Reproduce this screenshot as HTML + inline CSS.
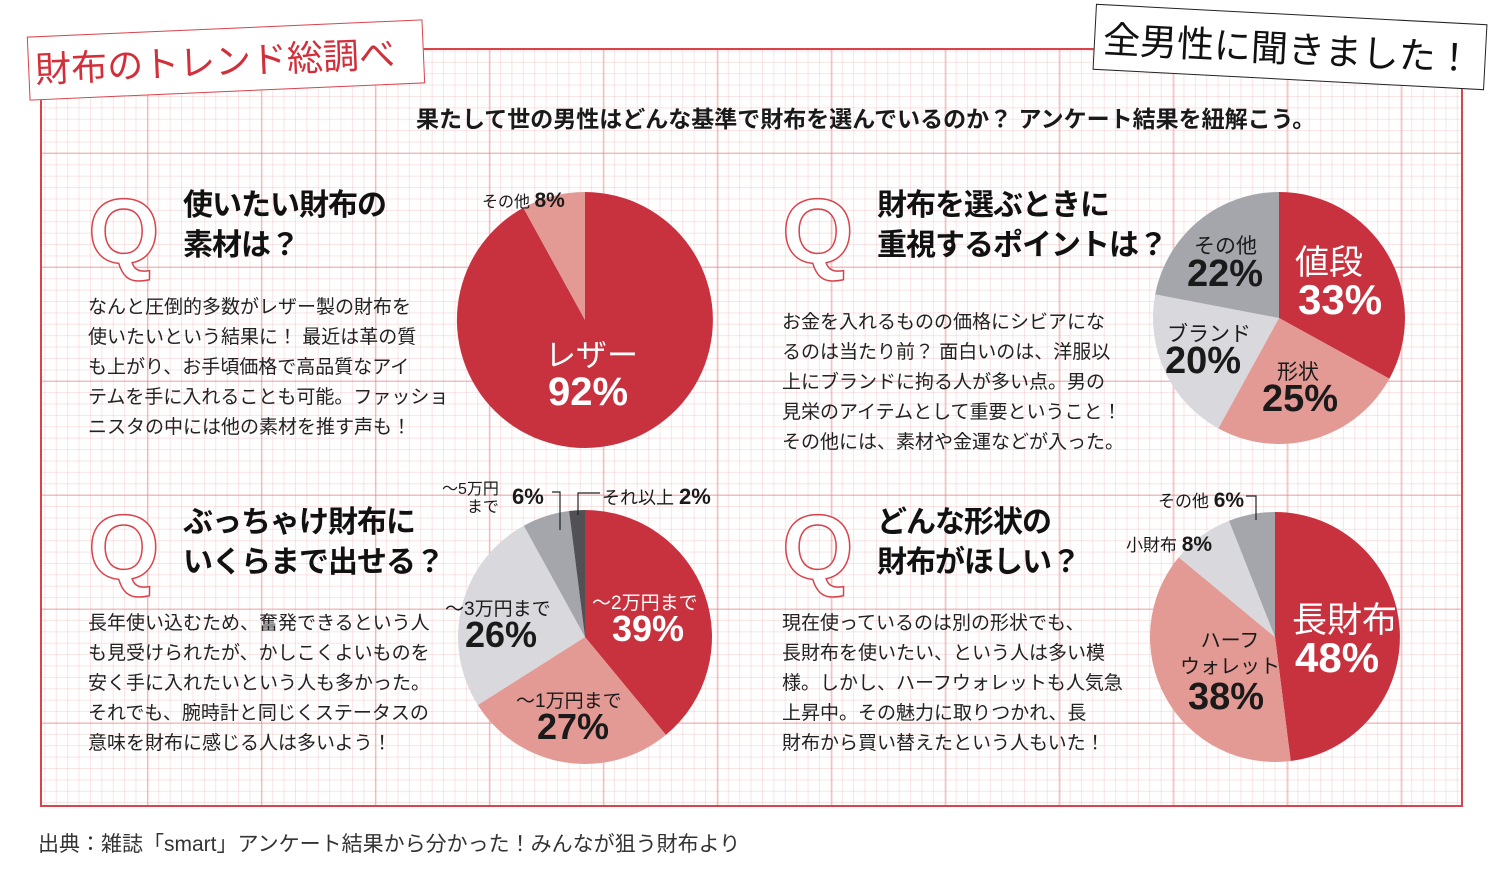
<!DOCTYPE html>
<html><head><meta charset="utf-8"><style>
*{margin:0;padding:0;box-sizing:border-box}
body{width:1500px;height:869px;background:#fff;position:relative;overflow:hidden;font-family:"Liberation Sans","Noto Sans CJK JP",sans-serif;color:#1a1a1a}
#grid{position:absolute;left:40px;top:48px;width:1423px;height:759px;border:2px solid #d9434b;
background-color:#fff;
background-image:
linear-gradient(90deg,rgba(225,120,120,.4) 1.3px,transparent 1.3px),
linear-gradient(0deg,rgba(225,120,120,.4) 1.3px,transparent 1.3px),
linear-gradient(90deg,rgba(235,160,160,.28) 1px,transparent 1px),
linear-gradient(0deg,rgba(235,160,160,.28) 1px,transparent 1px);
background-size:114px 114px,114px 114px,11.4px 11.4px,11.4px 11.4px;
background-position:-9px -10px,-9px -10px,-9px -10px,-9px -10px}
.t{position:absolute;white-space:nowrap}
.b{font-weight:bold}
.box1{position:absolute;left:28px;top:28px;width:396px;height:64px;background:#fff;border:1.5px solid #d9434b;transform:rotate(-2.5deg);color:#d32f3b;font-size:36px;line-height:60px;padding-left:6px;white-space:nowrap;font-family:"Noto Sans CJK JP",sans-serif}
.box2{position:absolute;left:1094px;top:14px;width:392px;height:66px;background:#fff;border:1.5px solid #222;transform:rotate(3deg);color:#111;font-size:37px;line-height:62px;padding-left:8px;white-space:nowrap;font-family:"Noto Sans CJK JP",sans-serif}
.q{position:absolute;font-size:19px;line-height:30px;color:#222;white-space:nowrap}
.h{position:absolute;font-size:30px;font-weight:bold;line-height:40px;color:#111;white-space:nowrap;letter-spacing:-1px}
.Q{position:absolute;font-family:"Liberation Sans",Arial,sans-serif;font-weight:bold;font-size:92px;line-height:92px;color:#fff;-webkit-text-stroke:1.5px #d9434b}
</style></head><body>
<div id="grid"></div>
<div class="box1">財布のトレンド総調べ</div>
<div class="box2">全男性に聞きました！</div>
<div class="t b" style="left:416px;top:100px;font-size:23px">果たして世の男性はどんな基準で財布を選んでいるのか？ アンケート結果を紐解こう。</div>

<div class="Q" style="left:88px;top:186px">Q</div>
<div class="Q" style="left:782px;top:186px">Q</div>
<div class="Q" style="left:88px;top:502px">Q</div>
<div class="Q" style="left:782px;top:502px">Q</div>

<svg width="1500" height="869" style="position:absolute;left:0;top:0">
<path d="M585,320 L585,192 A128,128 0 1 1 523.3,207.8 Z" fill="#c8323f"/>
<path d="M585,320 L523.3,207.8 A128,128 0 0 1 585,192 Z" fill="#e39a95"/>
<path d="M1279,318 L1279,192 A126,126 0 0 1 1389.4,378.7 Z" fill="#c8323f"/>
<path d="M1279,318 L1389.4,378.7 A126,126 0 0 1 1218.3,428.4 Z" fill="#e39a95"/>
<path d="M1279,318 L1218.3,428.4 A126,126 0 0 1 1155.2,294.4 Z" fill="#d9d9dd"/>
<path d="M1279,318 L1155.2,294.4 A126,126 0 0 1 1279,192 Z" fill="#a5a6ab"/>
<path d="M585,637 L585,510 A127,127 0 0 1 665.9,734.9 Z" fill="#c8323f"/>
<path d="M585,637 L665.9,734.9 A127,127 0 0 1 477.8,705 Z" fill="#e39a95"/>
<path d="M585,637 L477.8,705 A127,127 0 0 1 523.8,525.7 Z" fill="#d9d9dd"/>
<path d="M585,637 L523.8,525.7 A127,127 0 0 1 569.1,511 Z" fill="#a5a6ab"/>
<path d="M585,637 L569.1,511 A127,127 0 0 1 585,510 Z" fill="#505055"/>
<polyline points="552,492 560,492 560,530" fill="none" stroke="#222" stroke-width="1.2"/>
<polyline points="600,493 578,493 578,515" fill="none" stroke="#222" stroke-width="1.2"/>
<path d="M1275,637 L1275,512 A125,125 0 0 1 1290.7,761 Z" fill="#c8323f"/>
<path d="M1275,637 L1290.7,761 A125,125 0 0 1 1178.7,557.3 Z" fill="#e39a95"/>
<path d="M1275,637 L1178.7,557.3 A125,125 0 0 1 1229,520.8 Z" fill="#d9d9dd"/>
<path d="M1275,637 L1229,520.8 A125,125 0 0 1 1275,512 Z" fill="#a5a6ab"/>
<polyline points="1246,496 1256,496 1256,520" fill="none" stroke="#222" stroke-width="1.2"/>
</svg>

<div class="h" style="left:183px;top:186px">使いたい財布の<br>素材は？</div>
<div class="h" style="left:877px;top:186px">財布を選ぶときに<br>重視するポイントは？</div>
<div class="h" style="left:183px;top:503px">ぶっちゃけ財布に<br>いくらまで出せる？</div>
<div class="h" style="left:877px;top:503px">どんな形状の<br>財布がほしい？</div>

<div class="q" style="left:88px;top:293px">なんと圧倒的多数がレザー製の財布を<br>使いたいという結果に！ 最近は革の質<br>も上がり、お手頃価格で高品質なアイ<br>テムを手に入れることも可能。ファッショ<br>ニスタの中には他の素材を推す声も！</div>
<div class="q" style="left:782px;top:308px">お金を入れるものの価格にシビアにな<br>るのは当たり前？ 面白いのは、洋服以<br>上にブランドに拘る人が多い点。男の<br>見栄のアイテムとして重要ということ！<br>その他には、素材や金運などが入った。</div>
<div class="q" style="left:88px;top:609px">長年使い込むため、奮発できるという人<br>も見受けられたが、かしこくよいものを<br>安く手に入れたいという人も多かった。<br>それでも、腕時計と同じくステータスの<br>意味を財布に感じる人は多いよう！</div>
<div class="q" style="left:782px;top:609px">現在使っているのは別の形状でも、<br>長財布を使いたい、という人は多い模<br>様。しかし、ハーフウォレットも人気急<br>上昇中。その魅力に取りつかれ、長<br>財布から買い替えたという人もいた！</div>

<div class="t" style="left:482px;top:188px;font-size:16px">その他 <b style="font-size:21px">8%</b></div>
<div class="t" style="left:545px;top:330px;font-size:31px;color:#fff">レザー</div>
<div class="t b" style="left:548px;top:370px;font-size:40px;color:#fff">92%</div>

<div class="t" style="left:1295px;top:235px;font-size:34px;color:#fff">値段</div>
<div class="t b" style="left:1298px;top:276px;font-size:42px;color:#fff">33%</div>
<div class="t" style="left:1194px;top:230px;font-size:21px">その他</div>
<div class="t b" style="left:1187px;top:253px;font-size:38px">22%</div>
<div class="t" style="left:1167px;top:318px;font-size:21px">ブランド</div>
<div class="t b" style="left:1165px;top:340px;font-size:38px">20%</div>
<div class="t" style="left:1277px;top:356px;font-size:21px">形状</div>
<div class="t b" style="left:1262px;top:378px;font-size:38px">25%</div>

<div class="t" style="left:442px;top:481px;font-size:16px;line-height:18px;text-align:right">〜5万円<br>まで</div>
<div class="t b" style="left:512px;top:484px;font-size:22px">6%</div>
<div class="t" style="left:602px;top:484px;font-size:18px">それ以上 <b style="font-size:22px">2%</b></div>
<div class="t" style="left:592px;top:588px;font-size:19px;color:#fff">〜2万円まで</div>
<div class="t b" style="left:612px;top:608px;font-size:36px;color:#fff">39%</div>
<div class="t" style="left:445px;top:594px;font-size:19px">〜3万円まで</div>
<div class="t b" style="left:465px;top:614px;font-size:36px">26%</div>
<div class="t" style="left:516px;top:686px;font-size:19px">〜1万円まで</div>
<div class="t b" style="left:537px;top:706px;font-size:36px">27%</div>

<div class="t" style="left:1158px;top:487px;font-size:17px">その他 <b style="font-size:21px">6%</b></div>
<div class="t" style="left:1126px;top:531px;font-size:17px">小財布 <b style="font-size:21px">8%</b></div>
<div class="t" style="left:1292px;top:592px;font-size:35px;color:#fff">長財布</div>
<div class="t b" style="left:1295px;top:634px;font-size:42px;color:#fff">48%</div>
<div class="t" style="left:1180px;top:628px;font-size:20px;line-height:26px;text-align:center">ハーフ<br>ウォレット</div>
<div class="t b" style="left:1188px;top:676px;font-size:38px">38%</div>

<div class="t" style="left:38px;top:828px;font-size:21px;color:#333">出典：雑誌「smart」アンケート結果から分かった！みんなが狙う財布より</div>
</body></html>
